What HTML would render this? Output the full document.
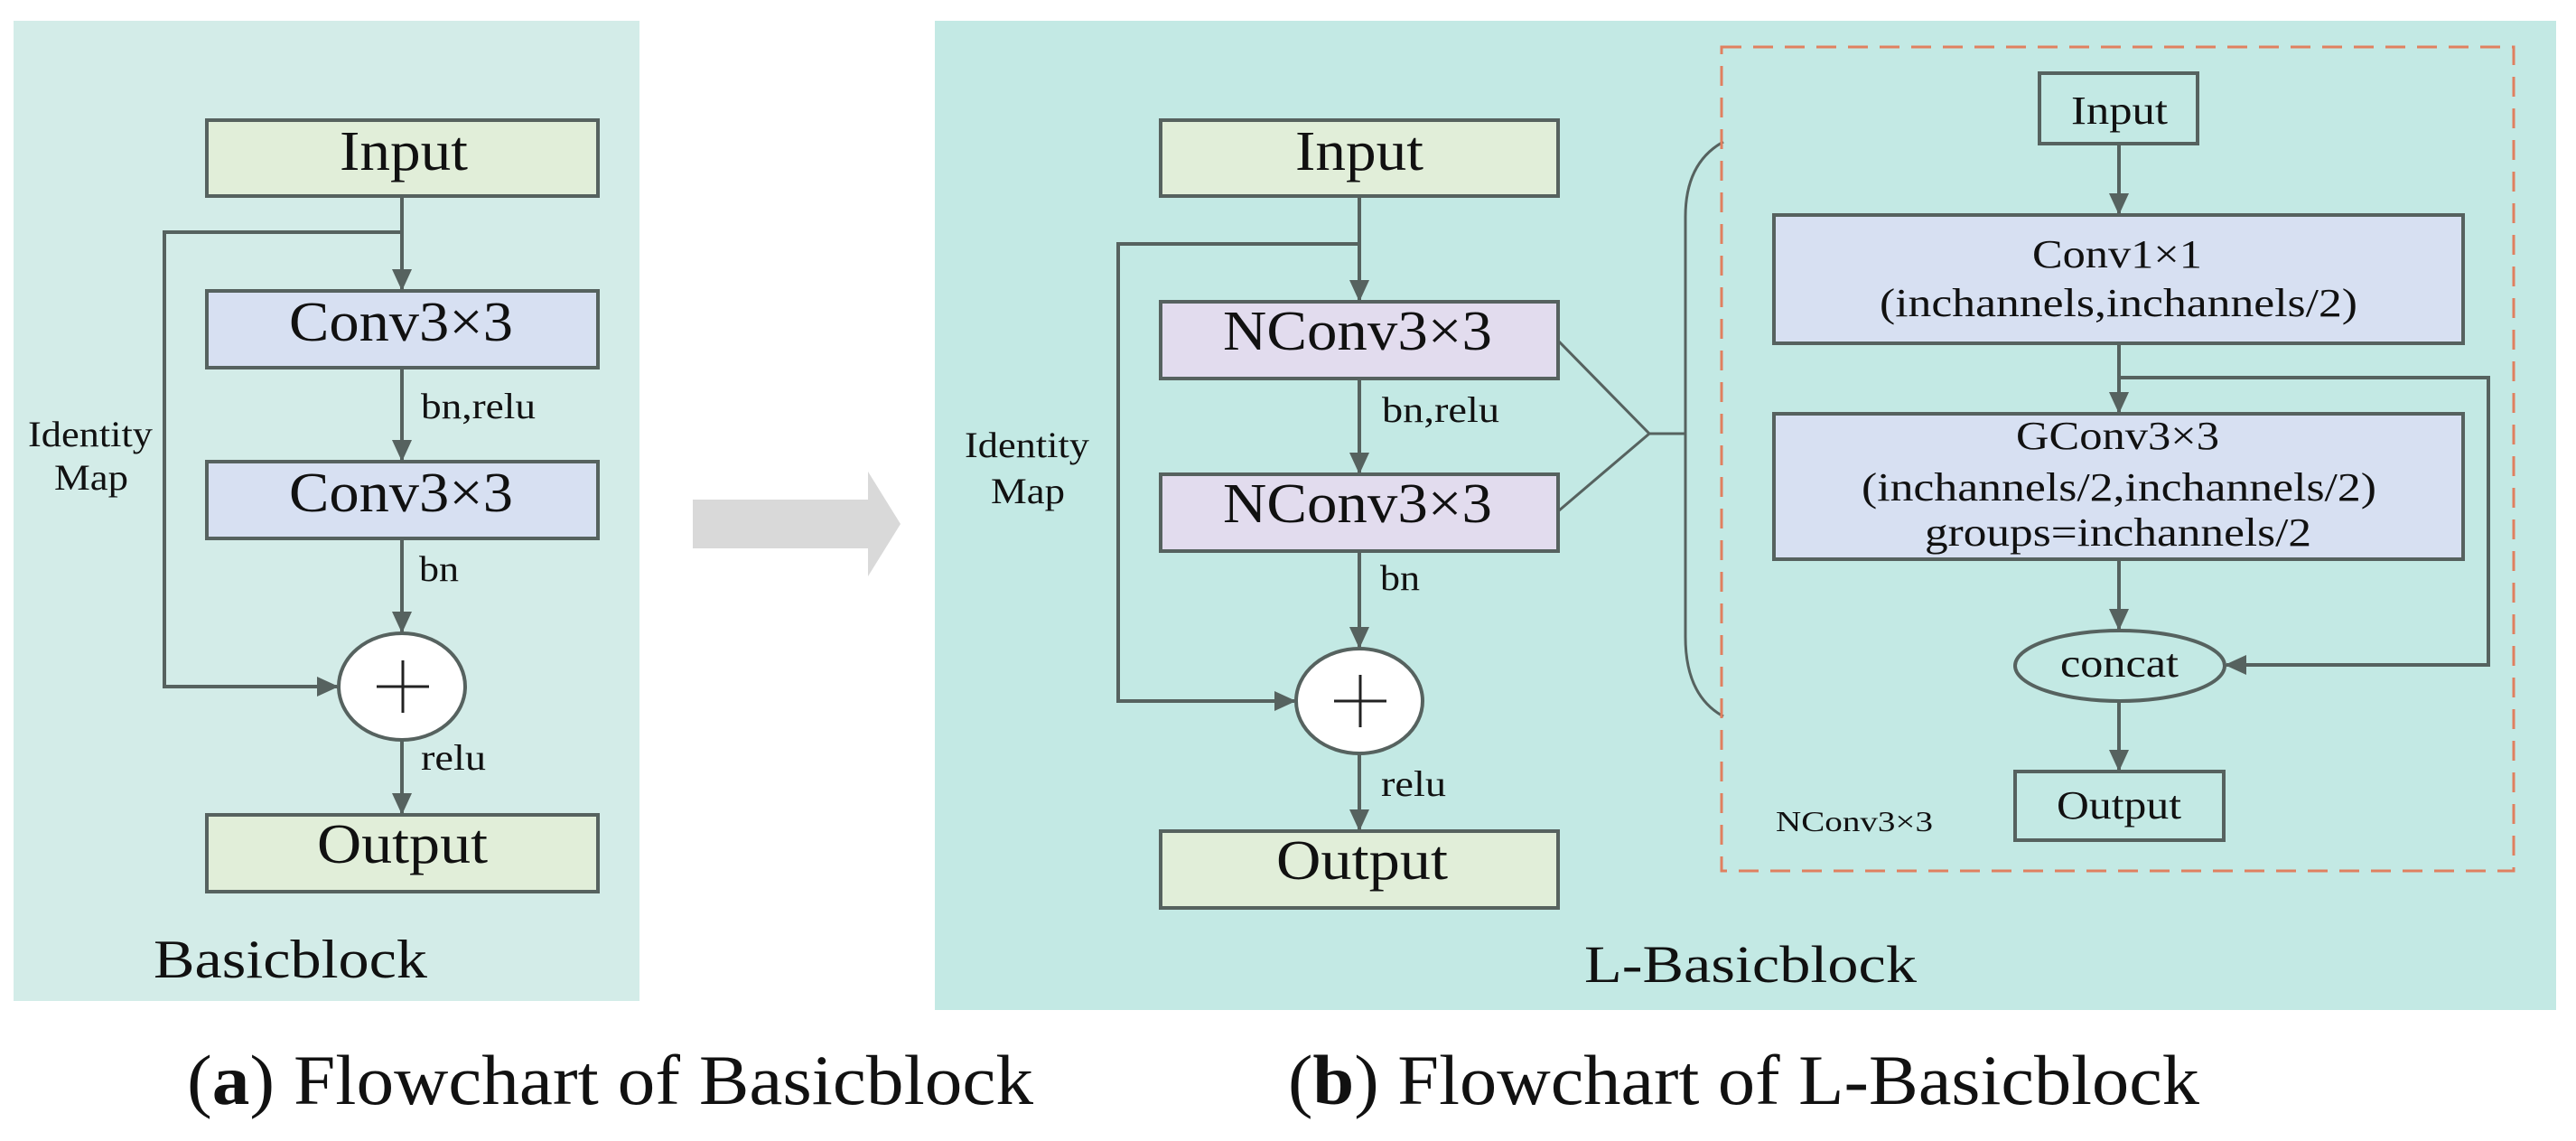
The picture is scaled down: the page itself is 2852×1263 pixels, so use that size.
<!DOCTYPE html>
<html><head><meta charset="utf-8"><style>
html,body{margin:0;padding:0;background:#fff;}
svg{display:block}
text{font-family:"Liberation Serif",serif;fill:#111;}
</style></head><body>
<svg width="2852" height="1263" viewBox="0 0 2852 1263" xmlns="http://www.w3.org/2000/svg">
<defs>
<marker id="ah" markerWidth="24" markerHeight="30" refX="22" refY="11" orient="auto" markerUnits="userSpaceOnUse" viewBox="0 0 24 22">
<path d="M0,0 L24,11 L0,22 Z" fill="#56625f"/>
</marker>
</defs>
<!-- panels -->
<rect x="15" y="23" width="693" height="1085" fill="#d3ece8"/>
<rect x="1035" y="23" width="1795" height="1095" fill="#c3e9e4"/>

<!-- gray arrow -->
<polygon points="767,553 961,553 961,522 997,580 961,638 961,607 767,607" fill="#d9d9d9"/>

<g stroke="#56625f" stroke-width="4" fill="none">
<!-- LEFT -->
<rect x="229" y="133" width="433" height="84" fill="#e1eed9"/>
<rect x="229" y="322" width="433" height="85" fill="#d7e0f2"/>
<rect x="229" y="511" width="433" height="85" fill="#d7e0f2"/>
<rect x="229" y="902" width="433" height="85" fill="#e1eed9"/>
<ellipse cx="445" cy="760" rx="70" ry="59" fill="#fff"/>
<line x1="445" y1="217" x2="445" y2="320" marker-end="url(#ah)"/>
<line x1="445" y1="407" x2="445" y2="509" marker-end="url(#ah)"/>
<line x1="445" y1="596" x2="445" y2="699" marker-end="url(#ah)"/>
<line x1="445" y1="819" x2="445" y2="900" marker-end="url(#ah)"/>
<polyline points="445,257 182,257 182,760 373,760" marker-end="url(#ah)"/>
<line x1="417" y1="760" x2="475" y2="760" stroke="#222" stroke-width="3"/>
<line x1="446" y1="731" x2="446" y2="789" stroke="#222" stroke-width="3"/>

<!-- RIGHT main -->
<rect x="1285" y="133" width="440" height="84" fill="#e1eed9"/>
<rect x="1285" y="334" width="440" height="85" fill="#e2dcee"/>
<rect x="1285" y="525" width="440" height="85" fill="#e2dcee"/>
<rect x="1285" y="920" width="440" height="85" fill="#e1eed9"/>
<ellipse cx="1505" cy="776" rx="70" ry="58" fill="#fff"/>
<line x1="1505" y1="217" x2="1505" y2="332" marker-end="url(#ah)"/>
<line x1="1505" y1="419" x2="1505" y2="523" marker-end="url(#ah)"/>
<line x1="1505" y1="610" x2="1505" y2="716" marker-end="url(#ah)"/>
<line x1="1505" y1="834" x2="1505" y2="918" marker-end="url(#ah)"/>
<polyline points="1505,270 1238,270 1238,776 1433,776" marker-end="url(#ah)"/>
<line x1="1477" y1="776" x2="1535" y2="776" stroke="#222" stroke-width="3"/>
<line x1="1506" y1="747" x2="1506" y2="805" stroke="#222" stroke-width="3"/>

<!-- brace connectors -->
<polyline points="1725,377 1826,480 1725,566" stroke-width="3"/>
<line x1="1826" y1="480" x2="1866" y2="480" stroke-width="3"/>
<path d="M1908,157 Q1866,180 1866,240 L1866,705 Q1866,770 1908,793" stroke-width="3"/>

<!-- dashed box -->
<rect x="1906" y="52" width="877" height="912" stroke="#e0805f" stroke-width="3" stroke-dasharray="22,13"/>

<!-- inner -->
<rect x="2258" y="81" width="175" height="78"/>
<rect x="1964" y="238" width="763" height="142" fill="#d7e0f2"/>
<rect x="1964" y="458" width="763" height="161" fill="#d7e0f2"/>
<ellipse cx="2347" cy="737" rx="116" ry="39"/>
<rect x="2231" y="854" width="231" height="76"/>
<line x1="2346" y1="159" x2="2346" y2="236" marker-end="url(#ah)"/>
<line x1="2346" y1="380" x2="2346" y2="456" marker-end="url(#ah)"/>
<line x1="2346" y1="619" x2="2346" y2="696" marker-end="url(#ah)"/>
<line x1="2346" y1="776" x2="2346" y2="852" marker-end="url(#ah)"/>
<polyline points="2346,418 2755,418 2755,736 2465,736" marker-end="url(#ah)"/>
</g>

<!-- LEFT texts -->
<text x="376" y="188" font-size="62" textLength="142" lengthAdjust="spacingAndGlyphs">Input</text>
<text x="320" y="377" font-size="62" textLength="248" lengthAdjust="spacingAndGlyphs">Conv3×3</text>
<text x="320" y="566" font-size="62" textLength="248" lengthAdjust="spacingAndGlyphs">Conv3×3</text>
<text x="351" y="955" font-size="62" textLength="189" lengthAdjust="spacingAndGlyphs">Output</text>
<text x="466" y="463" font-size="40" textLength="127" lengthAdjust="spacingAndGlyphs">bn,relu</text>
<text x="464" y="643" font-size="40" textLength="44" lengthAdjust="spacingAndGlyphs">bn</text>
<text x="466" y="852" font-size="40" textLength="72" lengthAdjust="spacingAndGlyphs">relu</text>
<text x="31" y="494" font-size="40" textLength="138" lengthAdjust="spacingAndGlyphs">Identity</text>
<text x="60" y="542" font-size="40" textLength="82" lengthAdjust="spacingAndGlyphs">Map</text>
<text x="170" y="1082" font-size="60" textLength="303" lengthAdjust="spacingAndGlyphs">Basicblock</text>

<!-- RIGHT texts -->
<text x="1434" y="188" font-size="62" textLength="142" lengthAdjust="spacingAndGlyphs">Input</text>
<text x="1354" y="387" font-size="62" textLength="298" lengthAdjust="spacingAndGlyphs">NConv3×3</text>
<text x="1354" y="578" font-size="62" textLength="298" lengthAdjust="spacingAndGlyphs">NConv3×3</text>
<text x="1413" y="973" font-size="62" textLength="190" lengthAdjust="spacingAndGlyphs">Output</text>
<text x="1530" y="467" font-size="40" textLength="130" lengthAdjust="spacingAndGlyphs">bn,relu</text>
<text x="1528" y="653" font-size="40" textLength="44" lengthAdjust="spacingAndGlyphs">bn</text>
<text x="1529" y="881" font-size="40" textLength="72" lengthAdjust="spacingAndGlyphs">relu</text>
<text x="1068" y="506" font-size="40" textLength="138" lengthAdjust="spacingAndGlyphs">Identity</text>
<text x="1097" y="557" font-size="40" textLength="82" lengthAdjust="spacingAndGlyphs">Map</text>
<text x="1754" y="1087" font-size="58" textLength="368" lengthAdjust="spacingAndGlyphs">L-Basicblock</text>

<!-- inner texts -->
<text x="2293" y="137" font-size="44" textLength="107" lengthAdjust="spacingAndGlyphs">Input</text>
<text x="2250" y="296" font-size="44" textLength="188" lengthAdjust="spacingAndGlyphs">Conv1×1</text>
<text x="2081" y="350" font-size="44" textLength="529" lengthAdjust="spacingAndGlyphs">(inchannels,inchannels/2)</text>
<text x="2232" y="497" font-size="44" textLength="225" lengthAdjust="spacingAndGlyphs">GConv3×3</text>
<text x="2061" y="554" font-size="44" textLength="570" lengthAdjust="spacingAndGlyphs">(inchannels/2,inchannels/2)</text>
<text x="2131" y="604" font-size="44" textLength="428" lengthAdjust="spacingAndGlyphs">groups=inchannels/2</text>
<text x="2281" y="749" font-size="44" textLength="131" lengthAdjust="spacingAndGlyphs">concat</text>
<text x="2277" y="906" font-size="44" textLength="138" lengthAdjust="spacingAndGlyphs">Output</text>
<text x="1966" y="920" font-size="32" textLength="174" lengthAdjust="spacingAndGlyphs">NConv3×3</text>

<!-- captions -->
<text x="207" y="1222" font-size="78" textLength="937" lengthAdjust="spacingAndGlyphs">(<tspan font-weight="bold">a</tspan>) Flowchart of Basicblock</text>
<text x="1426" y="1222" font-size="78" textLength="1009" lengthAdjust="spacingAndGlyphs">(<tspan font-weight="bold">b</tspan>) Flowchart of L-Basicblock</text>
</svg>
</body></html>
